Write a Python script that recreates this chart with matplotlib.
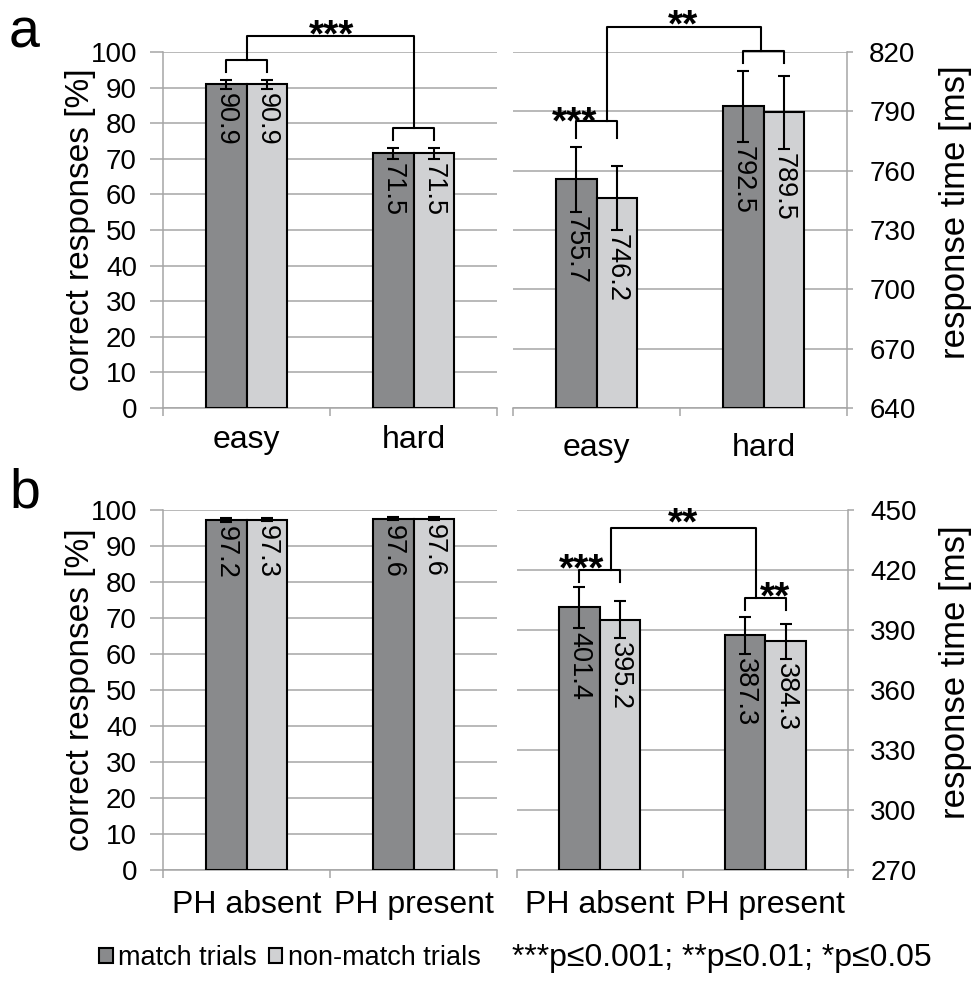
import numpy as np
import matplotlib.pyplot as plt
from matplotlib.patches import Patch

plt.rcParams['font.family'] = ['Liberation Sans', 'DejaVu Sans']

# ==========================================================
# Data
# ==========================================================

a_categories = ["easy", "hard"]
a_acc_match = [90.9, 71.5]
a_acc_nonmatch = [90.9, 71.5]
a_acc_match_err = [1.2, 1.5]
a_acc_nonmatch_err = [1.2, 1.5]
a_rt_match = [755.7, 792.5]
a_rt_nonmatch = [746.2, 789.5]
a_rt_match_err = [16.5, 18.0]
a_rt_nonmatch_err = [16.0, 18.5]

b_categories = ["PH absent", "PH present"]
b_acc_match = [97.2, 97.6]
b_acc_nonmatch = [97.3, 97.6]
b_acc_match_err = [0.6, 0.5]
b_acc_nonmatch_err = [0.4, 0.4]
b_rt_match = [401.4, 387.3]
b_rt_nonmatch = [395.2, 384.3]
b_rt_match_err = [10.3, 9.4]
b_rt_nonmatch_err = [9.3, 8.7]

legend_labels = ["match trials", "non-match trials"]
p_text = "***p\u22640.001; **p\u22640.01; *p\u22640.05"

# ==========================================================
# Style
# ==========================================================

DARK = "#898a8c"
LIGHT = "#d0d1d3"
GRAY = "#a6a6a6"
W = 0.245
FW, FH = 971, 986


def box(x0, y0, x1, y1):
    return [x0 / FW, 1 - y1 / FH, (x1 - x0) / FW, (y1 - y0) / FH]


def draw_panel(ax, cats, m, nm, me, nme, ylim, yticks, side, cat_pad):

    x = np.arange(len(cats))
    base = ylim[0]

    ax.bar(x - W / 2, np.array(m) - base, W, bottom=base,
           color=DARK, edgecolor="black", linewidth=1.5, zorder=3)
    ax.bar(x + W / 2, np.array(nm) - base, W, bottom=base,
           color=LIGHT, edgecolor="black", linewidth=1.5, zorder=3)

    for xs, vals, errs in [(x - W / 2, m, me), (x + W / 2, nm, nme)]:
        ax.errorbar(xs, vals, yerr=errs, fmt="none", ecolor="black",
                    elinewidth=1.5, capsize=4.3, capthick=1.5, zorder=4)
        for xi, v, e in zip(xs, vals, errs):
            ax.annotate(f"{v:.1f}", xy=(xi, v - e), xytext=(0, -3),
                        textcoords="offset points", rotation=-90,
                        ha="center", va="top", fontsize=19.5, zorder=5)

    ax.set_xlim(-0.5, len(cats) - 0.5)
    ax.set_ylim(*ylim)
    ax.set_yticks(yticks)

    ax.set_xticks(np.arange(len(cats) + 1) - 0.5)
    ax.set_xticklabels([])
    ax.set_xticks(x, minor=True)
    ax.set_xticklabels(cats, minor=True, fontsize=23)
    ax.tick_params(axis="x", which="major", length=6, width=1.1,
                   color=GRAY, direction="out")
    ax.tick_params(axis="x", which="minor", length=0, pad=cat_pad)

    ax.yaxis.grid(True, color=GRAY, linewidth=1.1)
    ax.set_axisbelow(True)

    for s in ax.spines.values():
        s.set_color(GRAY)
        s.set_linewidth(1.1)
    ax.spines["top"].set_visible(False)

    if side == "left":
        ax.spines["right"].set_visible(False)
        ax.tick_params(axis="y", length=9.4, width=1.1, color=GRAY,
                       labelsize=20, pad=9.4)
    else:
        ax.spines["left"].set_visible(False)
        ax.yaxis.tick_right()
        ax.tick_params(axis="y", length=4.5, width=1.1, color=GRAY,
                       labelsize=20, pad=11.5)


def bracket(ax, x1, x2, y_low, y_high):
    ax.plot([x1, x1, x2, x2], [y_low, y_high, y_high, y_low],
            color="black", linewidth=1.5, clip_on=False, zorder=6)


def connector(ax, xa, ya, xb, yb, ytop):
    ax.plot([xa, xa, xb, xb], [ya, ytop, ytop, yb],
            color="black", linewidth=1.5, clip_on=False, zorder=6)


def stars(ax, txt, x, y, size=28):
    ax.annotate(txt, xy=(x, y), xytext=(0, -0.56 * size),
                textcoords="offset points", ha="center", va="baseline",
                fontsize=size, fontweight="bold",
                annotation_clip=False, zorder=7)


fig = plt.figure(figsize=(FW / 100, FH / 100), dpi=100)

ax_a1 = fig.add_axes(box(163, 52, 497, 408))
ax_a2 = fig.add_axes(box(513, 52, 847, 408))
ax_b1 = fig.add_axes(box(163, 510, 497, 870))
ax_b2 = fig.add_axes(box(517, 510, 848, 870))

draw_panel(ax_a1, a_categories, a_acc_match, a_acc_nonmatch,
           a_acc_match_err, a_acc_nonmatch_err,
           (0, 100), np.arange(0, 101, 10), "left", 12)
draw_panel(ax_a2, a_categories, a_rt_match, a_rt_nonmatch,
           a_rt_match_err, a_rt_nonmatch_err,
           (640, 820), np.arange(640, 821, 30), "right", 18)
draw_panel(ax_b1, b_categories, b_acc_match, b_acc_nonmatch,
           b_acc_match_err, b_acc_nonmatch_err,
           (0, 100), np.arange(0, 101, 10), "left", 14.5)
draw_panel(ax_b2, b_categories, b_rt_match, b_rt_nonmatch,
           b_rt_match_err, b_rt_nonmatch_err,
           (270, 450), np.arange(270, 451, 30), "right", 14.5)

# ==========================================================
# Significance brackets
# ==========================================================

bracket(ax_a1, -0.123, 0.123, 94.4, 97.8)
bracket(ax_a1, 0.877, 1.123, 75.3, 78.7)
connector(ax_a1, 0.0, 97.8, 1.0, 78.7, 104.5)
stars(ax_a1, "***", 0.512, 107.6)

bracket(ax_a2, -0.123, 0.123, 776.5, 785.1)
bracket(ax_a2, 0.877, 1.123, 814.4, 820.5)
connector(ax_a2, 0.063, 785.1, 0.985, 820.5, 832.6)
stars(ax_a2, "***", -0.129, 789.7)
stars(ax_a2, "**", 0.518, 838.7)

bracket(ax_b2, -0.123, 0.123, 414, 420)
bracket(ax_b2, 0.877, 1.123, 400, 406)
connector(ax_b2, 0.068, 420, 0.944, 406, 441)
stars(ax_b2, "***", -0.107, 425.5)
stars(ax_b2, "**", 0.503, 448.5)
stars(ax_b2, "**", 1.059, 411.5)

# ==========================================================
# Labels
# ==========================================================

fig.text(80 / FW, 1 - 230 / FH, "correct responses [%]", rotation=90,
         ha="center", va="center", fontsize=24)
fig.text(80 / FW, 1 - 690 / FH, "correct responses [%]", rotation=90,
         ha="center", va="center", fontsize=24)
fig.text(955 / FW, 1 - 212 / FH, "response time [ms]", rotation=90,
         ha="center", va="center", fontsize=25)
fig.text(955 / FW, 1 - 672 / FH, "response time [ms]", rotation=90,
         ha="center", va="center", fontsize=25)

fig.text(9 / FW, 1 - 47 / FH, "a", fontsize=40, va="baseline")
fig.text(9 / FW, 1 - 508 / FH, "b", fontsize=40, va="baseline")

handles = [
    Patch(facecolor=DARK, edgecolor="black", linewidth=1.5),
    Patch(facecolor=LIGHT, edgecolor="black", linewidth=1.5),
]
fig.legend(handles, legend_labels, loc="center left",
           bbox_to_anchor=(99 / FW, 28 / FH), ncol=2, frameon=False,
           fontsize=19.5, handlelength=0.5, handleheight=0.5,
           handletextpad=0.2, columnspacing=0.45,
           borderpad=0, borderaxespad=0)
fig.text(512 / FW, 28 / FH, p_text, ha="left", va="center", fontsize=23)

fig.savefig("out.png", dpi=100)
